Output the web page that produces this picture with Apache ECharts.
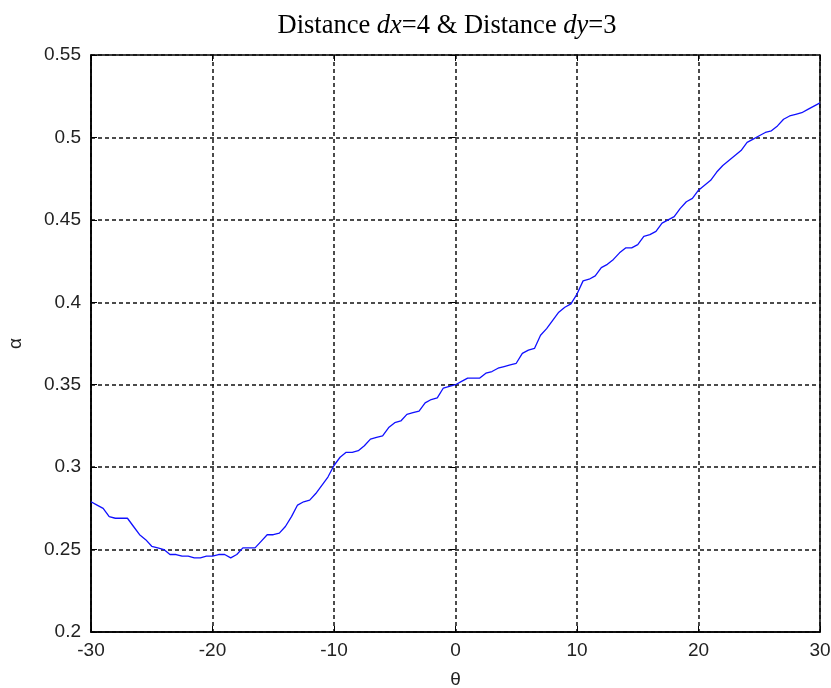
<!DOCTYPE html>
<html>
<head>
<meta charset="utf-8">
<script src="https://cdn.jsdelivr.net/npm/echarts@6/dist/echarts.min.js"></script>
<style>
  html, body { margin: 0; padding: 0; background: #fff; }
</style>
</head>
<body>
<div id="myChart" style="width:831px;height:688px"></div>
<script>
// theta values (degrees), step 0.5
var thetaVals = [];
for (var t = -30; t <= 30.001; t += 0.5) thetaVals.push(t);
// alpha
var alphaVals = [
  0.279, 0.277, 0.275, 0.270, 0.269, 0.269, 0.269, 0.264, 0.259, 0.256,
  0.252, 0.251, 0.250, 0.247, 0.247, 0.246, 0.246, 0.245, 0.245, 0.246,
  0.246, 0.247, 0.247, 0.245, 0.247, 0.251, 0.251, 0.251, 0.255, 0.259,
  0.259, 0.260, 0.264, 0.270, 0.277, 0.279, 0.280, 0.284, 0.289, 0.294,
  0.301, 0.306, 0.309, 0.309, 0.310, 0.313, 0.317, 0.318, 0.319, 0.324,
  0.327, 0.328, 0.332, 0.333, 0.334, 0.339, 0.341, 0.342, 0.348, 0.349,
  0.350, 0.352, 0.354, 0.354, 0.354, 0.357, 0.358, 0.360, 0.361, 0.362,
  0.363, 0.369, 0.371, 0.372, 0.380, 0.384, 0.389, 0.394, 0.397, 0.399,
  0.405, 0.413, 0.414, 0.416, 0.421, 0.423, 0.426, 0.430, 0.433, 0.433,
  0.435, 0.440, 0.441, 0.443, 0.448, 0.450, 0.452, 0.457, 0.461, 0.463,
  0.468, 0.471, 0.474, 0.479, 0.483, 0.486, 0.489, 0.492, 0.497, 0.499,
  0.501, 0.503, 0.504, 0.507, 0.511, 0.513, 0.514, 0.515, 0.517, 0.519,
  0.521
];
var xTicks = [-30, -20, -10, 0, 10, 20, 30];
var yTicks = [0.2, 0.25, 0.3, 0.35, 0.4, 0.45, 0.5, 0.55];

var seriesData = [];
for (var i = 0; i < thetaVals.length; i++) {
  seriesData.push([thetaVals[i], alphaVals[i]]);
}

var myChart = echarts.init(document.getElementById('myChart'));
var gridLine = { show: true, lineStyle: { color: '#111', type: [4, 3], width: 1.5 } };
var labelFont = { fontFamily: 'Liberation Sans, Arial, sans-serif', fontSize: 19, color: '#222' };
var serif = 'Liberation Serif, Times New Roman, serif';

var option = {
  backgroundColor: '#fff',
  animation: false,
  title: {
    text: '{n|Distance }{i|dx}{n|=4 & Distance }{i|dy}{n|=3}',
    left: 442,
    textAlign: 'center',
    top: 8,
    textStyle: {
      rich: {
        n: { fontFamily: serif, fontSize: 26.5, fontWeight: 'normal', color: '#000' },
        i: { fontFamily: serif, fontSize: 26.5, fontWeight: 'normal', fontStyle: 'italic', color: '#000' }
      }
    }
  },
  grid: {
    left: 91, right: 11, top: 55, bottom: 56,
    outerBoundsMode: 'none',
    containLabel: false,
    show: true, borderColor: '#000', borderWidth: 1.5
  },
  xAxis: [{
    type: 'value',
    min: -30, max: 30, interval: 10,
    name: 'θ',
    nameLocation: 'middle',
    nameGap: 38,
    nameTextStyle: labelFont,
    axisLine: { show: true, onZero: false, lineStyle: { color: '#000', width: 1.5 } },
    axisTick: { show: true, inside: true, length: 6, lineStyle: { color: '#000' } },
    axisLabel: Object.assign({ margin: 9 }, labelFont),
    splitLine: gridLine
  }, {
    type: 'value',
    position: 'top',
    min: -30, max: 30, interval: 10,
    axisLine: { show: false },
    axisTick: { show: true, inside: true, length: 6, lineStyle: { color: '#000' } },
    axisLabel: { show: false },
    splitLine: { show: false }
  }],
  yAxis: [{
    type: 'value',
    min: 0.2, max: 0.55, interval: 0.05,
    name: 'α',
    nameLocation: 'middle',
    nameGap: 66,
    nameRotate: 90,
    nameTextStyle: labelFont,
    axisLine: { show: true, onZero: false, lineStyle: { color: '#000', width: 1.5 } },
    axisTick: { show: true, inside: true, length: 6, lineStyle: { color: '#000' } },
    axisLabel: Object.assign({ margin: 10, formatter: function (v) { return String(+v.toFixed(2)); } }, labelFont),
    splitLine: gridLine
  }, {
    type: 'value',
    position: 'right',
    min: 0.2, max: 0.55, interval: 0.05,
    axisLine: { show: false },
    axisTick: { show: true, inside: true, length: 6, lineStyle: { color: '#000' } },
    axisLabel: { show: false },
    splitLine: { show: false }
  }],
  series: [{
    type: 'line',
    data: seriesData,
    showSymbol: false,
    lineStyle: { color: '#1010ff', width: 1.3 }
  }]
};
myChart.setOption(option);
</script>
</body>
</html>
